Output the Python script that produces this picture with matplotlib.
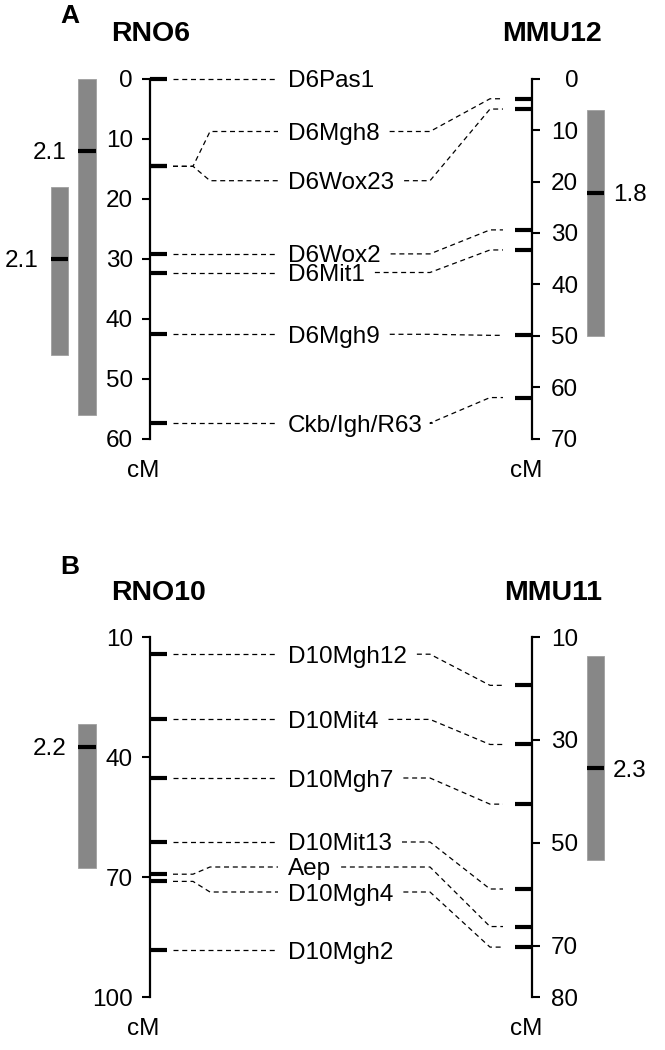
import matplotlib
matplotlib.use("Agg")
import matplotlib.pyplot as plt

plt.rcParams['font.family'] = ['Liberation Sans', 'DejaVu Sans']

# ---- panel A: rat chromosome 6 vs mouse chromosome 12 (cM) ----
A_MARKERS = ["D6Pas1", "D6Mgh8", "D6Wox23", "D6Wox2", "D6Mit1", "D6Mgh9", "Ckb/Igh/R63"]
A_RNO_CM = [0, 14.6, 14.6, 29.2, 32.3, 42.6, 57.4]
A_LABEL_CM = [0, 8.8, 17.0, 29.2, 32.3, 42.6, 57.4]     # label row on the rat scale
A_MMU_CM = [None, 3.9, 5.9, 29.4, 33.3, 49.9, 62.0]
A_RNO_TICKS = [0, 10, 20, 30, 40, 50, 60]
A_MMU_TICKS = [0, 10, 20, 30, 40, 50, 60, 70]
A_RNO_QTL = [(0, 56, 12, "2.1"), (18, 46, 30, "2.1")]   # (start, end, peak, LOD)
A_MMU_QTL = [(6, 50, 22.2, "1.8")]

# ---- panel B: rat chromosome 10 vs mouse chromosome 11 (cM) ----
B_MARKERS = ["D10Mgh12", "D10Mit4", "D10Mgh7", "D10Mit13", "Aep", "D10Mgh4", "D10Mgh2"]
B_RNO_CM = [14.3, 30.6, 45.25, 61.25, 69.3, 71.1, 88.3]
B_LABEL_CM = [14.3, 30.6, 45.25, 61.25, 67.5, 73.75, 88.3]
B_MMU_CM = [19.4, 30.9, 42.5, 59.0, 66.3, 70.3, None]
B_RNO_TICKS = [10, 40, 70, 100]
B_MMU_TICKS = [10, 30, 50, 70, 80]
B_RNO_QTL = [(31.8, 67.8, 37.4, "2.2")]
B_MMU_QTL = [(13.6, 53.4, 35.5, "2.3")]

# layout, in figure pixels (x data units == pixels)
W, H = 665, 1050
X_RNO, X_MMU = 150, 531.7
RNO_MARK = (150, 167)
MMU_MARK = (515, 531.7)
LABEL_X = 288
BAR_W = 17.5
FS = 17.5
GREY = "#878787"
DASH = dict(color="black", lw=0.9, ls=(0, (4.0, 3.0)), clip_on=False)


def to_mmu(ax, ax2, x, y):
    disp = ax.transData.transform((x, y))
    return ax2.transData.inverted().transform(disp)[1]


def draw_panel(fig, letter, top_px, rno_name, mmu_name, rno_ticks, mmu_ticks,
               markers, rno_cm, label_cm, mmu_cm, rno_qtl, rno_bar_x, mmu_qtl,
               letter_dy):
    ax = fig.add_axes([0, 1 - (top_px + 360) / H, 1, 360 / H])
    ax2 = ax.twinx()
    ax.set_xlim(0, W)
    ax.set_ylim(rno_ticks[-1], rno_ticks[0])
    ax2.set_ylim(mmu_ticks[-1], mmu_ticks[0])
    ax.patch.set_visible(False)
    for a in (ax, ax2):
        for s in a.spines.values():
            s.set_visible(False)
        a.set_xticks([])
    ax.spines["left"].set_visible(True)
    ax.spines["left"].set_position(("data", X_RNO))
    ax.spines["left"].set_linewidth(1.6)
    ax2.spines["right"].set_visible(True)
    ax2.spines["right"].set_position(("data", X_MMU))
    ax2.spines["right"].set_linewidth(1.6)

    ax.set_yticks(rno_ticks)
    ax.tick_params(axis="y", length=6, width=1.5, pad=6.3, labelsize=FS)
    ax2.set_yticks(mmu_ticks)
    ax2.tick_params(axis="y", length=6, width=1.5, pad=27.6, labelsize=FS)
    for t in ax2.get_yticklabels():
        t.set_horizontalalignment("right")

    fig.canvas.draw()
    renderer = fig.canvas.get_renderer()
    inv = ax.transData.inverted()

    for name, r, lab, m in zip(markers, rno_cm, label_cm, mmu_cm):
        ax.plot(RNO_MARK, [r, r], color="black", lw=3, solid_capstyle="butt",
                clip_on=False)
        if lab == r:
            ax.plot([173, 278], [r, r], **DASH)
        else:
            ax.plot([173, 193, 210, 278], [r, r, lab, lab], **DASH)
        txt = ax.text(LABEL_X, lab, name, fontsize=FS, ha="left",
                      va="center_baseline", clip_on=False)
        if m is None:
            continue
        ax2.plot(MMU_MARK, [m, m], color="black", lw=3, solid_capstyle="butt",
                 clip_on=False)
        x_end = inv.transform((txt.get_window_extent(renderer).x1, 0))[0]
        y_lab = to_mmu(ax, ax2, 0, lab)
        ax2.plot([x_end + 10, 430, 490, 503], [y_lab, y_lab, m, m], **DASH)

    for (start, end, peak, lod), x0 in zip(rno_qtl, rno_bar_x):
        ax.bar(x0 + BAR_W / 2, end - start, bottom=start, width=BAR_W,
               color=GREY, edgecolor="#a0a0a0", lw=0.6, clip_on=False)
        ax.plot([x0, x0 + BAR_W], [peak, peak], color="black", lw=3,
                solid_capstyle="butt", clip_on=False)
        ax.text(x0 - 12, peak, lod, fontsize=FS, ha="right",
                va="center_baseline", clip_on=False)
    for start, end, peak, lod in mmu_qtl:
        x0 = 586.7
        ax2.bar(x0 + BAR_W / 2, end - start, bottom=start, width=BAR_W,
                color=GREY, edgecolor="#a0a0a0", lw=0.6, clip_on=False)
        ax2.plot([x0, x0 + BAR_W], [peak, peak], color="black", lw=3,
                 solid_capstyle="butt", clip_on=False)
        ax2.text(x0 + BAR_W + 9, peak, lod, fontsize=FS, ha="left",
                 va="center_baseline", clip_on=False)

    # headings and axis units
    kw = dict(xycoords=("data", "axes fraction"), textcoords="offset pixels",
              va="center")
    ax.annotate(letter, (60, 1), xytext=(0, letter_dy), fontsize=19,
                fontweight="bold", ha="left", **kw)
    ax.annotate(rno_name, (111, 1), xytext=(0, 44.5), fontsize=20.5,
                fontweight="bold", ha="left", **kw)
    ax.annotate(mmu_name, (602, 1), xytext=(0, 44.5), fontsize=20.5,
                fontweight="bold", ha="right", **kw)
    ax.annotate("cM", (143, 0), xytext=(0, -32), fontsize=FS, ha="center", **kw)
    ax.annotate("cM", (526, 0), xytext=(0, -32), fontsize=FS, ha="center", **kw)


fig = plt.figure(figsize=(W / 100, H / 100), dpi=100)
draw_panel(fig, "A", 78.7, "RNO6", "MMU12", A_RNO_TICKS, A_MMU_TICKS,
           A_MARKERS, A_RNO_CM, A_LABEL_CM, A_MMU_CM, A_RNO_QTL, [78.3, 50.7],
           A_MMU_QTL, 62.7)
draw_panel(fig, "B", 637, "RNO10", "MMU11", B_RNO_TICKS, B_MMU_TICKS,
           B_MARKERS, B_RNO_CM, B_LABEL_CM, B_MMU_CM, B_RNO_QTL, [78.3],
           B_MMU_QTL, 69.5)
fig.savefig("out.png", dpi=100)
